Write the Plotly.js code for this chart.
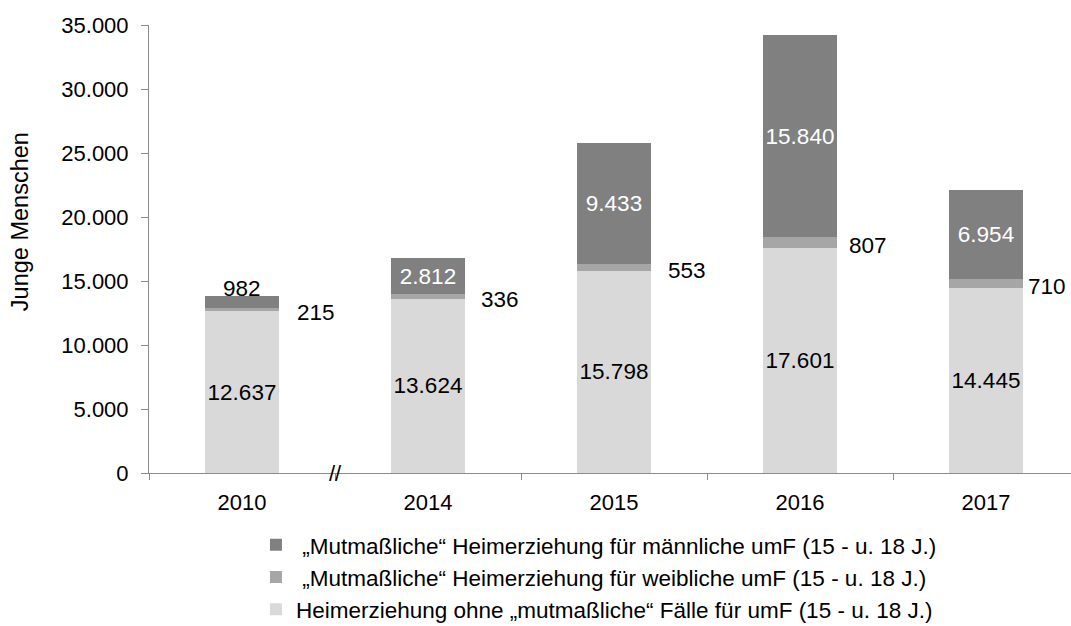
<!DOCTYPE html>
<html>
<head>
<meta charset="utf-8">
<script src="https://cdn.plot.ly/plotly-3.0.1.min.js"></script>
<style>html,body{margin:0;padding:0;background:#fff;}#chart{width:1071px;height:626px;}</style>
</head>
<body>
<div id="chart"></div>
<script>
// ---- data ----
const years = ['2010', '2014', '2015', '2016', '2017'];
const ohneValues = [12637, 13624, 15798, 17601, 14445];
const weiblichValues = [215, 336, 553, 807, 710];
const maennlichValues = [982, 2812, 9433, 15840, 6954];
const seriesNames = [
  '\u00a0„Mutmaßliche“ Heimerziehung für männliche umF (15 - u. 18 J.)',
  '\u00a0„Mutmaßliche“ Heimerziehung für weibliche umF (15 - u. 18 J.)',
  'Heimerziehung ohne „mutmaßliche“ Fälle für umF (15 - u. 18 J.)'
];
const yAxisTitle = 'Junge Menschen';
const breakMark = '//';

// ---- styling / placement (not data) ----
const FONT = 'Liberation Sans, Arial, sans-serif';
const SMALL = 1500;                       // segments too thin for an inside label
const sideLabelShift = [53, 51, 52, 47, 40]; // px right of category centre for side labels
function fmt(v) { return String(v).replace(/\B(?=(\d{3})+(?!\d))/g, '.'); }

const traceOhne = {
  type: 'bar', x: years, y: ohneValues, name: seriesNames[2],
  marker: { color: '#D9D9D9' },
  texttemplate: '%{y:,d}', textposition: 'inside', insidetextanchor: 'middle',
  textangle: 0, constraintext: 'none',
  insidetextfont: { family: FONT, size: 22.5, color: '#000' },
  hoverinfo: 'skip'
};
const traceWeiblich = {
  type: 'bar', x: years, y: weiblichValues, name: seriesNames[1],
  marker: { color: '#A6A6A6' }, hoverinfo: 'skip'
};
const traceMaennlich = {
  type: 'bar', x: years, y: maennlichValues, name: seriesNames[0],
  marker: { color: '#808080' },
  texttemplate: '%{y:,d}',
  textposition: maennlichValues.map(v => v < SMALL ? 'none' : 'inside'),
  insidetextanchor: 'middle', textangle: 0, constraintext: 'none', cliponaxis: false,
  insidetextfont: { family: FONT, size: 22.5, color: '#fff' },
  hoverinfo: 'skip'
};

const annotations = years.map((yr, i) => ({
  x: i, y: ohneValues[i] + weiblichValues[i] / 2, xref: 'x', yref: 'y',
  text: fmt(weiblichValues[i]), showarrow: false, xanchor: 'left', yanchor: 'middle',
  xshift: sideLabelShift[i], yshift: -3,
  font: { family: FONT, size: 22.5, color: '#000' }
}));
maennlichValues.forEach((v, i) => {
  if (v < SMALL) {
    annotations.push({
      x: i, y: ohneValues[i] + weiblichValues[i] + v, xref: 'x', yref: 'y',
      text: fmt(v), showarrow: false, xanchor: 'center', yanchor: 'middle', yshift: 7,
      font: { family: FONT, size: 22.5, color: '#000' }
    });
  }
});
annotations.push({
  x: 0.5, y: 0, xref: 'x', yref: 'y', text: breakMark, showarrow: false,
  xanchor: 'center', yanchor: 'middle', font: { family: FONT, size: 22, color: '#000' }
});
annotations.push({
  x: -0.14, y: 0.562, xref: 'paper', yref: 'paper', text: yAxisTitle, showarrow: false,
  textangle: -90, xanchor: 'center', yanchor: 'middle',
  font: { family: FONT, size: 23.5, color: '#000' }
});

const layout = {
  width: 1071, height: 626,
  margin: { l: 149, r: 0, t: 25, b: 153, pad: 0, autoexpand: false },
  paper_bgcolor: '#fff', plot_bgcolor: '#fff',
  separators: ',.',
  barmode: 'stack', bargap: 0.6,
  font: { family: FONT, size: 22, color: '#000' },
  xaxis: {
    type: 'category', range: [-0.5, 4.457], fixedrange: true,
    showline: true, linecolor: '#8C8C8C', linewidth: 1,
    ticks: 'outside', tickson: 'boundaries', ticklen: 6, tickcolor: '#8C8C8C',
    showgrid: false, zeroline: false, ticklabelstandoff: 10,
    tickfont: { family: FONT, size: 22, color: '#000' }
  },
  yaxis: {
    range: [0, 35000], tickvals: [0, 5000, 10000, 15000, 20000, 25000, 30000, 35000],
    tickformat: ',d', showline: true, linecolor: '#8C8C8C', linewidth: 1,
    ticks: 'outside', ticklen: 7, tickcolor: '#8C8C8C',
    showgrid: false, zeroline: false, ticklabelstandoff: 8,
    tickfont: { family: FONT, size: 22, color: '#000' }
  },
  legend: {
    x: 0.116, y: -0.113, xanchor: 'left', yanchor: 'top',
    orientation: 'v', traceorder: 'reversed',
    font: { family: FONT, size: 22.5, color: '#000' },
    bgcolor: 'rgba(0,0,0,0)'
  },
  annotations: annotations,
  showlegend: true
};

Plotly.newPlot('chart', [traceOhne, traceWeiblich, traceMaennlich], layout,
  { staticPlot: true, displayModeBar: false });
</script>
</body>
</html>
